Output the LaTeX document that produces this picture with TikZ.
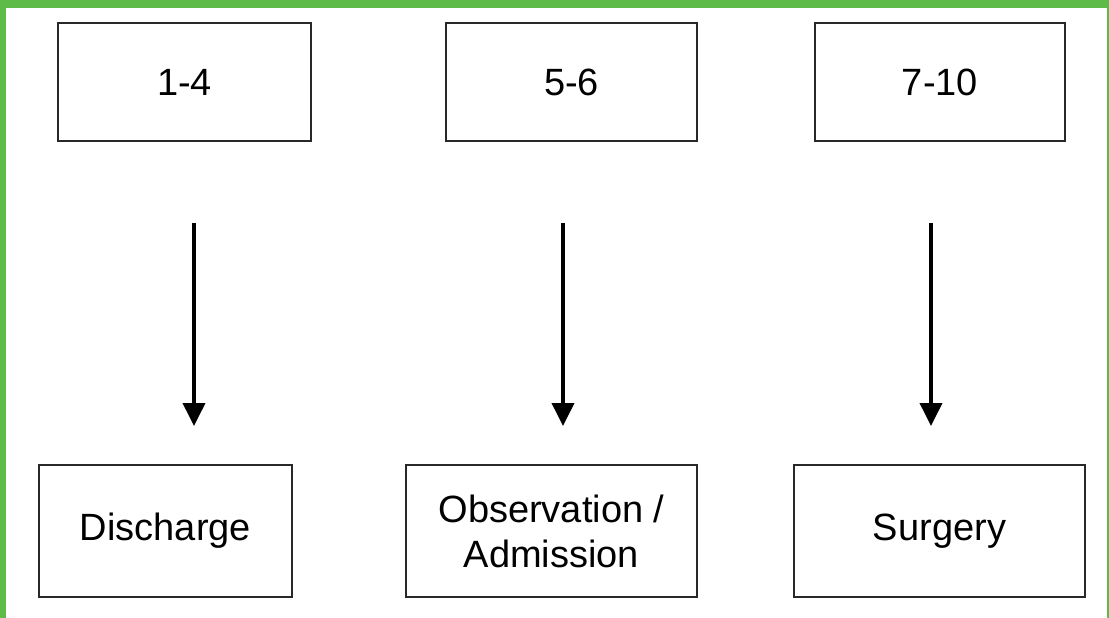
\documentclass[tikz,border=0pt]{standalone}
\usepackage{fontspec}
\setmainfont{Liberation Sans}
\usetikzlibrary{arrows.meta}
\definecolor{framegreen}{RGB}{94,187,72}
\definecolor{boxline}{RGB}{40,40,40}
\tikzset{
  box/.style={draw=boxline, line width=2.8pt, fill=white, rectangle, inner sep=0pt,
              align=center, font=\fontsize{38}{45}\selectfont},
  flow/.style={line width=3.8pt, draw=black, -{Triangle[width=22pt,length=23pt]}}
}
\begin{document}
\begin{tikzpicture}[x=1pt,y=-1pt]
\useasboundingbox (0,0) rectangle (1109,618);
\fill[white] (0,0) rectangle (1109,618);
\fill[framegreen] (0,0) rectangle (1109,8);
\fill[framegreen] (0,0) rectangle (6,618);
\fill[framegreen] (1106.5,0) rectangle (1109,618);
% top boxes
\node[box, minimum width=253pt, minimum height=118pt] (a) at (184.5,82) {1-4};
\node[box, minimum width=251pt, minimum height=118pt] (b) at (571.5,82) {5-6};
\node[box, minimum width=250pt, minimum height=118pt] (c) at (940,82) {7-10};
% bottom boxes
\node[box, minimum width=253pt, minimum height=132pt] (d) at (165.5,531) {Discharge};
\node[box, minimum width=291pt, minimum height=132pt] (e) at (551.5,531) {Observation /\\Admission};
\node[box, minimum width=291pt, minimum height=132pt] (f) at (939.5,531) {Surgery};
% arrow ends
\coordinate (s1) at (194,223); \coordinate (t1) at (194,426);
\coordinate (s2) at (563,223); \coordinate (t2) at (563,426);
\coordinate (s3) at (931,223); \coordinate (t3) at (931,426);
\draw[flow] (s1) -- (t1);
\draw[flow] (s2) -- (t2);
\draw[flow] (s3) -- (t3);
\end{tikzpicture}
\end{document}
